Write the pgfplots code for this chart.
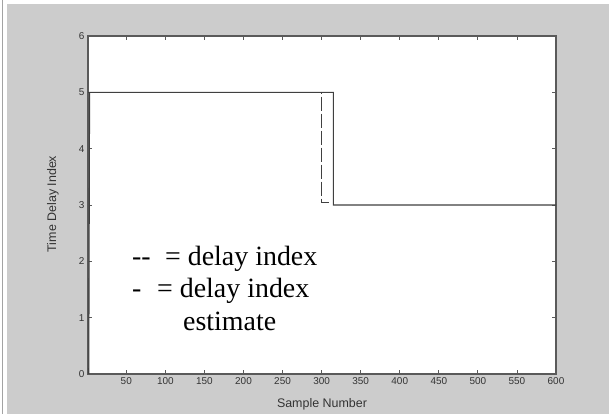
\documentclass[border=0pt]{standalone}
\usepackage{pgfplots}
\pgfplotsset{compat=1.18}
\usepackage{fontspec}
\setmainfont{Liberation Serif}
\newfontfamily\axfont{Liberation Sans}
\definecolor{figgray}{RGB}{204,204,204}
\definecolor{axgray}{RGB}{90,90,90}
\begin{document}
\begin{tikzpicture}[x=1bp,y=1bp]
\useasboundingbox (0,0) rectangle (609,414);
\fill[white] (0,0) rectangle (609,414);
\fill[figgray] (7,0) rectangle (609,410);
\fill[figgray!80!black] (2,0) rectangle (3,414);
\begin{axis}[
  at={(88bp,40bp)}, anchor=south west,
  width=468bp, height=338bp, scale only axis,
  xmin=1, xmax=600, ymin=0, ymax=6,
  xtick={50,100,...,600}, ytick={0,1,...,6},
  tick align=inside, major tick length=4bp,
  axis background/.style={fill=white},
  axis line style={axgray, line width=1.2bp},
  every tick/.style={axgray, line width=0.8bp},
  tick label style={font=\axfont\fontsize{10}{11}\selectfont, text=black!80},
  label style={font=\axfont\fontsize{12.5}{14}\selectfont, text=black!80},
  xlabel={Sample Number}, ylabel={Time Delay Index},
  xlabel style={at={(axis description cs:0.5,-0.0888)}, anchor=center},
  ylabel style={at={(axis description cs:-0.075,0.503)}, anchor=center},
  scaled x ticks=false,
  /pgf/number format/assume math mode=true,
  clip=false,
]
\addplot[black!75, line width=1bp, dash pattern=on 14bp off 3bp] coordinates {
  (1,5) (300,5) (300,3.05) (310,3.05)
};
\addplot[black!75, line width=1.1bp] coordinates {
  (2,0) (3,5) (315,5) (315,3) (600,3)
};
\end{axis}
\node[anchor=base west, inner sep=0, font=\fontsize{28}{32}\selectfont] at (132,149) {-{}-};
\node[anchor=base west, inner sep=0, font=\fontsize{28}{32}\selectfont] at (165,149) {= delay index};
\node[anchor=base west, inner sep=0, font=\fontsize{28}{32}\selectfont] at (132,117) {-};
\node[anchor=base west, inner sep=0, font=\fontsize{28}{32}\selectfont] at (157,117) {= delay index};
\node[anchor=base west, inner sep=0, font=\fontsize{28}{32}\selectfont] at (183,84) {estimate};
\end{tikzpicture}
\end{document}
